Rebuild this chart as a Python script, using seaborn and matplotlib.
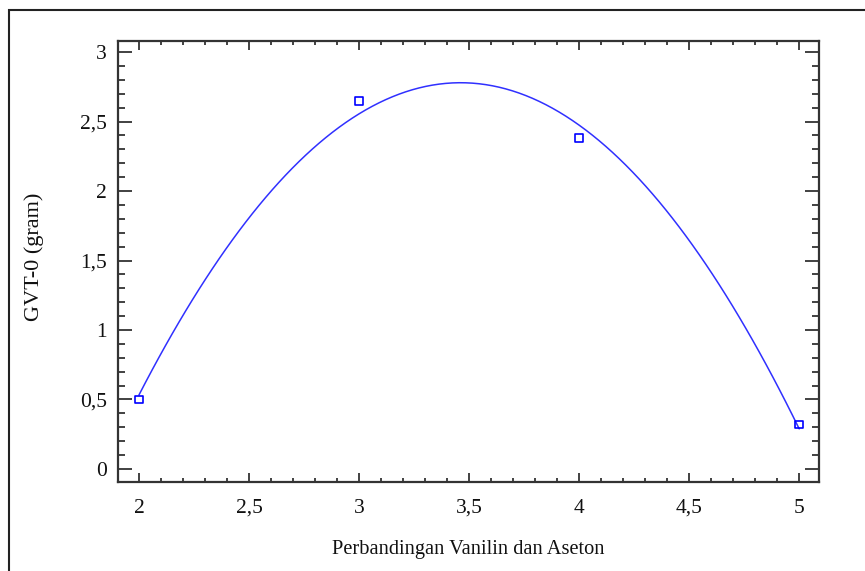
import matplotlib
matplotlib.use('Agg')
import matplotlib.pyplot as plt
import seaborn as sns
import pandas as pd
from matplotlib.ticker import MultipleLocator, FixedLocator, FixedFormatter
from matplotlib.patches import Rectangle

# Data
ratio = [2, 3, 4, 5]
gvt = [0.5, 2.65, 2.38, 0.32]

x_ticks = [2, 2.5, 3, 3.5, 4, 4.5, 5]
x_tick_labels = ['2', '2,5', '3', '3,5', '4', '4,5', '5']
y_ticks = [0, 0.5, 1, 1.5, 2, 2.5, 3]
y_tick_labels = ['0', '0,5', '1', '1,5', '2', '2,5', '3']

data = pd.DataFrame({'ratio': ratio, 'gvt': gvt})

sns.set_style('ticks')
plt.rcParams['font.family'] = ['Liberation Serif', 'DejaVu Serif']

fig = plt.figure(figsize=(8.65, 5.71), dpi=100)
ax = fig.add_axes([118 / 865, 89 / 571, 701 / 865, 441 / 571])

# Quadratic fit with the data points as open squares
sns.regplot(data=data, x='ratio', y='gvt', order=2, ci=None, marker='s',
            color='#0000ff', ax=ax,
            scatter_kws={'facecolors': 'none', 'edgecolors': '#0000ff',
                         's': 30, 'linewidths': 1.2, 'alpha': 1, 'zorder': 3},
            line_kws={'color': '#3030ff', 'lw': 1.1})

ax.set_xlim(1.905, 5.09)
ax.set_ylim(-0.094, 3.08)

ax.xaxis.set_major_locator(FixedLocator(x_ticks))
ax.xaxis.set_major_formatter(FixedFormatter(x_tick_labels))
ax.yaxis.set_major_locator(FixedLocator(y_ticks))
ax.yaxis.set_major_formatter(FixedFormatter(y_tick_labels))
ax.xaxis.set_minor_locator(MultipleLocator(0.1))
ax.yaxis.set_minor_locator(MultipleLocator(0.1))

ax.tick_params(axis='both', which='both', direction='in', top=True, right=True,
               colors='#333333', labelcolor='#111111', labelsize=15.5, width=1.3)
ax.tick_params(axis='y', which='major', length=10, pad=8)
ax.tick_params(axis='y', which='minor', length=5)
ax.tick_params(axis='x', which='major', length=6.5, pad=12)
ax.tick_params(axis='x', which='minor', length=3)

for sp in ax.spines.values():
    sp.set_color('#333333')
    sp.set_linewidth(1.6)

ax.set_xlabel('Perbandingan Vanilin dan Aseton', fontsize=14.7, color='#111111', va='center')
ax.set_ylabel('GVT-0 (gram)', fontsize=16, color='#111111', va='center')
ax.xaxis.set_label_coords(0.5, -0.152)
ax.yaxis.set_label_coords(-0.12, 0.51)

# Outer frame around the figure (cut off at right and bottom)
fig.patches.append(Rectangle((9 / 865, -0.2), 1.2, 1.2 - 10 / 571,
                             transform=fig.transFigure, fill=False,
                             edgecolor='#222222', lw=1.5))

fig.savefig('out.png', dpi=100)
